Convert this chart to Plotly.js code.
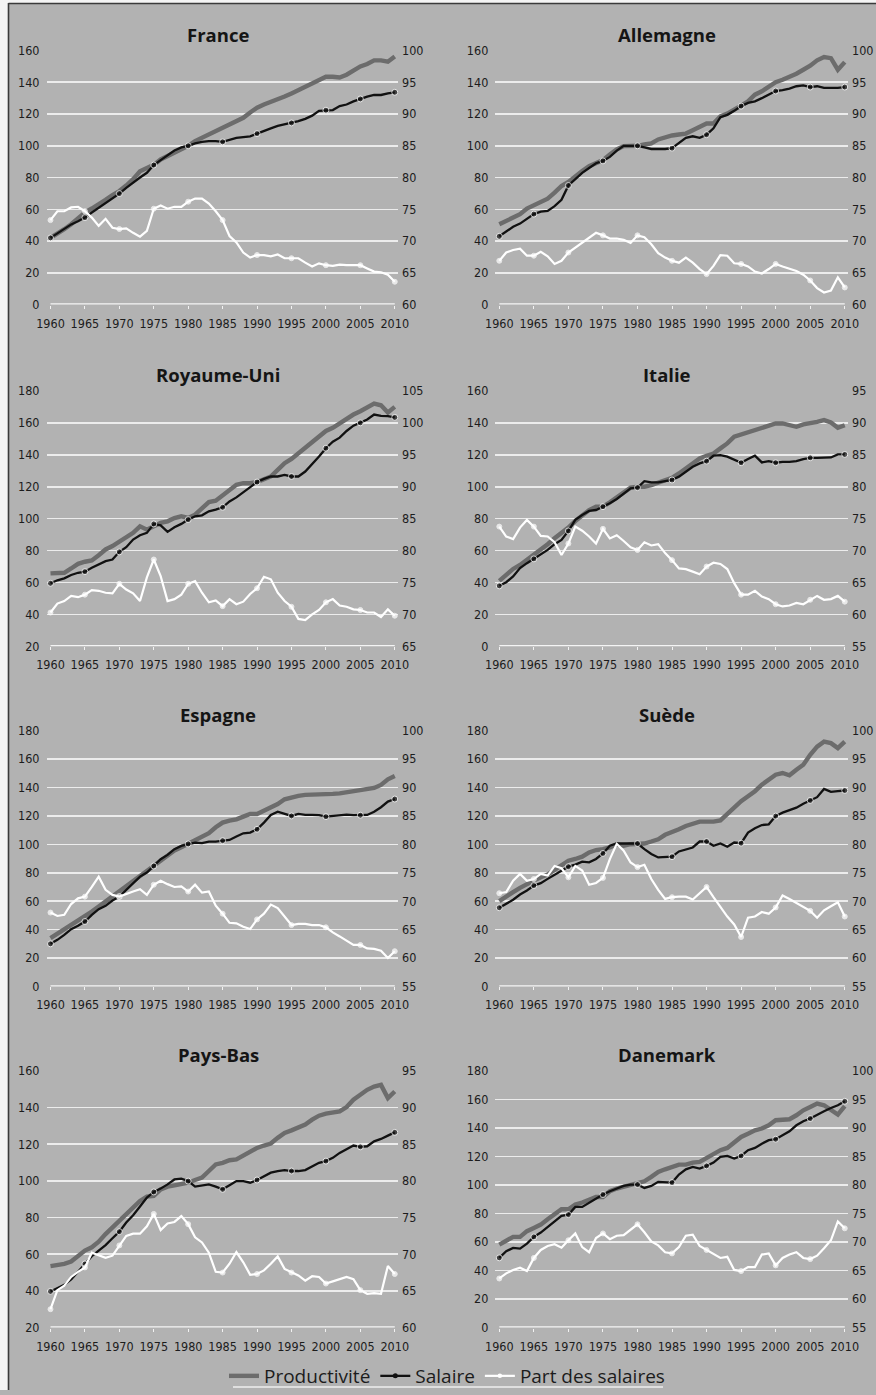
<!DOCTYPE html>
<html>
<head>
<meta charset="utf-8">
<script src="https://cdn.plot.ly/plotly-3.0.1.min.js"></script>
<style>
  html, body { margin: 0; padding: 0; background: #ffffff; }
  #chart { width: 876px; height: 1395px; }
</style>
</head>
<body>
<div id="chart"></div>
<script>
// Years 1960 to 2010
const years = [];
for (let y = 1960; y <= 2010; y++) years.push(y);
const yearTicks = [1960, 1965, 1970, 1975, 1980, 1985, 1990, 1995, 2000, 2005, 2010];

const seriesNames = ['Productivité', 'Salaire', 'Part des salaires'];

// France
const franceProductivite = [42,44.5,47.5,50.6,54,58,60.5,63,66,69,71.5,75,79,84,86,88,91.4,93.5,95.6,98,100,103,105,107,109,111,113.5,115.5,117.6,121,124,126,127.5,129,131,133,135,137,139,141.6,143.5,143.5,143,144.8,147.5,150,151.5,153.8,153.8,153,156.3];
const franceSalaire = [42,45,48,50.5,52.5,54.8,58,61,64,67,69.9,73.5,77,80,83,87.9,91,94,97,99,100,101.5,102.5,103,103,102.5,104,105,105.5,106,107.7,109.5,111,112.5,113.5,114.4,115.5,117,119,122,122.4,122.5,125,126,128,129.5,131,132,132,133,133.7];
const francePart = [73.3,74.7,74.7,75.3,75.4,74.7,73.7,72.4,73.5,72.1,71.9,72.0,71.3,70.7,71.6,75.1,75.6,75.1,75.4,75.4,76.2,76.7,76.7,75.9,74.7,73.3,70.8,69.8,68.2,67.4,67.8,67.8,67.6,67.9,67.3,67.3,67.3,66.6,66.0,66.5,66.2,66.1,66.3,66.2,66.2,66.2,65.7,65.2,65.1,64.7,63.6];

// Allemagne
const allemagneProductivite = [50.6,52.7,54.8,56.9,60.5,62.6,64.6,66.7,70.5,74.7,77.2,81,84.1,87.2,89.3,91,94.6,97.7,99.8,99.8,100,100.8,101.5,104,105.6,106.5,107.1,107.7,109.8,111.9,114,114,118.6,120.3,123.2,125.3,128,132.2,134.3,137,140,141.6,143.3,145.4,147.9,150.4,153.8,155.9,155.2,147.9,152.7];
const allemagneSalaire = [43,46,49,51,54,57,58.5,59,62,66,75,79,83,86,89,90.5,93,97,100,100,100,99,98,98,98,98.5,102,105,106,105,107,111,118,119.5,122,125,127,128,130,132,134.5,135,136,137.5,138,137,137.5,136.5,136.5,136.5,137];
const allemagnePart = [66.9,68.2,68.6,68.8,67.7,67.7,68.3,67.6,66.4,66.9,68.2,69.0,69.7,70.6,71.3,70.9,70.4,70.4,70.2,69.7,70.9,70.6,69.5,68.1,67.4,66.9,66.6,67.4,66.6,65.6,64.8,66.1,67.8,67.7,66.5,66.4,66.0,65.2,64.9,65.6,66.4,66.0,65.6,65.3,64.7,63.8,62.6,61.9,62.2,64.3,62.7];

// Royaume-Uni
const royaumeUniProductivite = [65.7,66.1,66.1,68.8,71.7,73,73.8,77.1,80.7,82.8,85.5,88.4,91.1,95.2,93.1,95.2,97.3,98.3,100.4,101.5,100.4,102.5,106.6,110.4,111.2,114.5,118.1,121.2,122.2,122.2,122.9,124.3,126.4,130.5,134.7,137.4,140.9,144.1,147.8,151.3,154.9,156.9,159.6,162.8,165.2,167.3,170,172.1,171,166.5,170];
const royaumeUniSalaire = [59.5,61.4,62.6,64.7,66.1,66.8,69.2,71.3,73.4,74.4,79.2,82.1,86.9,89.6,91.1,96.7,95.8,91.7,94.6,96.7,99.4,101.5,102.1,104.6,105.6,107.1,110.8,113.3,116.6,119.5,122.9,124.9,126.4,126.4,127.4,126.4,126.4,129.5,134.1,138.9,144.1,148.2,150.7,154.9,158.2,160,162.1,165.2,164.4,164.2,163.4];
const royaumeUniPart = [70.3,71.7,72.1,72.9,72.7,73.1,73.8,73.7,73.4,73.3,74.8,73.9,73.3,72.1,75.8,78.6,76.0,72.1,72.4,73.1,74.8,75.2,73.4,71.9,72.2,71.3,72.4,71.6,72.0,73.2,74.1,75.9,75.5,73.4,72.1,71.2,69.3,69.1,70.0,70.7,71.9,72.4,71.4,71.2,70.8,70.7,70.3,70.3,69.6,70.8,69.8];

// Italie
const italieProductivite = [41,44.4,48.5,51,54.2,56.9,60.4,64,67.7,70.8,74.4,78.5,81.9,85.4,87.5,87.5,90.2,93.1,96.5,99.4,100,100,101,102.7,104.2,105.6,108.3,111.5,114.6,117.7,119.4,120.8,124,127.1,131.3,132.7,134,135.4,136.5,138.1,139.6,139.6,138.5,137.5,139,139.6,140.6,141.7,140.2,136.9,138.5];
const italieSalaire = [37.9,40.2,43.8,49,52.1,54.8,57.7,60.4,64,66.7,72.3,79.2,82.3,84.8,85.4,87.5,89.6,92.3,95.8,99,99.4,103.5,102.7,102.7,103.5,104.2,106.3,109.4,112.5,114.6,116,119.4,119.8,118.8,116.7,115,117.3,119.4,115.2,116,115,115.6,115.6,116,117.3,118.1,118.1,118.1,118.3,120.2,120.2];
const italiePart = [73.75,72.2,71.8,73.6,74.8,73.75,72.3,72.2,71.3,69.3,71.1,73.75,73.1,72.2,71.1,73.4,71.9,72.4,71.5,70.5,70.1,71.3,70.8,71.0,69.6,68.5,67.2,67.1,66.7,66.3,67.5,68.1,67.9,67.1,64.9,63.1,63.1,63.7,62.8,62.4,61.6,61.25,61.4,61.8,61.6,62.3,62.9,62.3,62.4,62.9,62.0];

// Espagne
const espagneProductivite = [34,37,39.8,43.4,46.4,49.2,52.7,56.2,59.8,63.3,66.8,70.3,74.5,77.8,81.6,85.5,89.1,92.6,95.6,98,100.3,102.6,105,107.8,112,115.3,116.7,117.6,119.5,121.4,121.4,123.7,126.1,128.4,131.7,133.1,134.1,134.8,134.8,134.8,135.2,135.5,135.9,136.6,137.3,137.8,138.3,139.7,141.8,145.8,148.1];
const espagneSalaire = [30,32.8,36.3,40.3,42.7,45.7,50.4,54.4,56.7,60.5,63.3,68,73.1,77.3,80.2,84.8,89.5,92.6,96.6,98.9,100.3,101.2,100.8,101.9,101.9,102.6,103.1,105.5,107.8,108.3,110.6,115.3,120.7,123,121.4,120,121.4,120.7,120.7,120.5,119.5,120,120.5,120.9,120.5,120.5,120.7,123,126.1,130.1,131.9];
const espagnePart = [68.0,67.4,67.6,69.5,70.5,70.8,72.5,74.3,72.0,71.1,70.8,71.3,71.7,72.1,71.1,72.9,73.6,73.0,72.5,72.6,71.7,72.9,71.5,71.7,69.2,67.8,66.2,66.1,65.5,65.1,66.8,67.8,69.4,68.8,67.2,65.8,66.0,66.0,65.8,65.8,65.4,64.5,63.8,63.1,62.3,62.3,61.7,61.6,61.3,60.0,61.2];

// Suède
const sueProductivite = [60.1,62.9,66.4,69.4,72.2,74.5,76.9,78.7,82,85.7,88.5,89.7,91.3,94.3,96,96.6,97.8,100.1,99,100.1,100.1,100.6,102,103.6,106.7,108.3,110.6,112.9,114.6,116,116,116,116.9,121.6,125.3,130.4,133.9,137.4,142,145.6,149,150.2,148.6,152.5,156,163,168.8,172.3,171.2,167.7,172.3];
const sueSalaire = [55.4,58.2,61,64.7,67.5,71,72.7,75.7,78.7,81.5,84.3,85.7,87.8,87.3,89.7,93.6,99,100.6,100.6,100.1,100.6,96.6,93.2,90.8,91.3,91.3,95,96.6,97.8,102,102,99,100.6,98.3,101.3,100.8,108.3,111.3,113.6,114.1,119.9,122.3,123.9,125.8,128.6,130.9,133.2,139,136.9,137.4,137.9];
const suePart = [71.4,71.6,73.6,74.8,73.6,73.9,74.8,74.5,76.2,75.8,74.2,76.2,75.4,72.9,73.2,74.1,77.4,80.1,78.9,76.8,76.0,76.4,73.9,72.0,70.4,70.7,70.8,70.8,70.3,71.4,72.5,70.7,69.0,67.3,65.9,63.7,67.1,67.3,68.1,67.8,68.9,71.0,70.4,69.7,69.0,68.3,67.1,68.4,69.1,69.8,67.3];

// Pays-Bas
const paysBasProductivite = [53.5,53.8,54.7,56,58.9,62,63.8,66.8,71,74.6,78.2,81.3,85.5,89.1,91.4,91.8,95.4,96.9,97.6,98.1,99,100.5,101.8,105.4,109,109.9,111.3,111.7,113.9,116.2,118,119.3,120.4,123.5,126.2,127.6,129.4,130.7,133.4,135.6,136.7,137,137.9,140.3,144.3,147,149.7,151.5,152.4,145.2,148.8];
const paysBasSalaire = [39.7,41.5,43.3,46.2,50.6,54.7,58.9,62,65,68.7,72.3,77.3,81.3,86,90.9,94,95.8,98.1,100.8,101.2,99.9,96.9,97.6,98.1,96.9,95.4,97.6,99.9,99.9,99,100.5,102.3,104.5,105.4,105.9,105.4,105.4,105.9,108.1,109.9,110.8,112.6,115.3,117.1,119.3,118.6,118.9,121.6,122.9,124.7,126.5];
const paysBasPart = [62.5,65.1,65.7,66.9,67.6,68.2,70.2,69.8,69.5,69.8,71.2,72.5,72.8,72.8,73.8,75.5,73.3,74.2,74.4,75.2,74.1,72.3,71.6,70.2,67.6,67.5,68.7,70.3,68.9,67.2,67.3,67.8,68.7,69.7,68.0,67.5,67.1,66.4,67.0,66.9,66.0,66.3,66.6,66.9,66.6,65.1,64.6,64.7,64.6,68.4,67.3];

// Danemark
const danemarkProductivite = [58.2,61.2,63.6,63.6,67.6,69.9,72.2,76,79.9,83,83,86.3,87.7,90,91.6,91.6,95.6,97.5,98.6,100.3,101,102.6,105.7,109.2,111,112.7,114.3,114.3,115.7,116.2,119,121.3,124.4,126,130.2,133.7,136,138.4,139.6,141.9,145.4,145.4,146.1,148.9,152.4,154.7,157.1,155.9,152.4,149.4,155.4];
const danemarkSalaire = [48.9,53.5,55.9,55.4,58.9,63.6,66.6,70.6,74.6,78.3,79.2,84.6,84.6,87.7,90.5,93.3,95.6,97.5,99.3,100.3,100.3,97.9,99.3,102.2,102.2,101.7,107.3,111,112.7,111.5,113.4,115.7,119.7,120.4,118.5,120.4,124.4,126,129,131.4,132.1,134.9,137.7,141.9,144.7,146.6,149.4,151.7,154,155.9,158.7];
const danemarkPart = [63.6,64.5,65.1,65.5,64.9,67.2,68.6,69.3,69.6,69.0,70.3,71.5,69.1,68.2,70.7,71.5,70.5,71.1,71.2,72.1,73.1,71.7,70.1,69.4,68.2,68.0,69.1,71.1,71.3,69.3,68.6,68.0,67.2,67.4,65.1,64.9,65.6,65.6,67.8,68.0,65.9,67.2,67.8,68.2,67.2,67.0,67.6,68.9,70.3,73.6,72.4];

const countries = ['France', 'Allemagne', 'Royaume-Uni', 'Italie', 'Espagne', 'Suède', 'Pays-Bas', 'Danemark'];
const productivite = [franceProductivite, allemagneProductivite, royaumeUniProductivite, italieProductivite, espagneProductivite, sueProductivite, paysBasProductivite, danemarkProductivite];
const salaire = [franceSalaire, allemagneSalaire, royaumeUniSalaire, italieSalaire, espagneSalaire, sueSalaire, paysBasSalaire, danemarkSalaire];
const partSalaires = [francePart, allemagnePart, royaumeUniPart, italiePart, espagnePart, suePart, paysBasPart, danemarkPart];

// Left (index) and right (share, %) axis ranges per country
const leftRanges = [[0,160],[0,160],[20,180],[0,160],[0,180],[0,180],[20,160],[0,180]];
const rightRanges = [[60,100],[60,100],[65,105],[55,95],[55,100],[55,100],[60,95],[55,100]];

// ---- page geometry (pixels) ----
const W = 876, H = 1395;
const colPx = [[46.5, 398], [495.3, 848]];
const rowPx = [[50.7, 305.7], [392.3, 648.7], [733.3, 990], [1074.8, 1332.3]];
const titleCx = [218, 667];
const px2x = p => p / W;
const px2y = p => 1 - p / H;

const BG = '#b2b2b2';
const GRID = '#ececec';
const PROD_COLOR = '#6c6c6c', SAL_COLOR = '#111111', PART_COLOR = '#ffffff';
const tickFont = { family: '"Liberation Sans Narrow", "DejaVu Sans Condensed", "Open Sans", sans-serif', size: 12.5, color: '#1c1c1c' };
const xRange = [1959.42, 2010.47];

const traces = [];
const layout = {
  width: W, height: H,
  margin: { l: 0, r: 0, t: 0, b: 0 },
  paper_bgcolor: BG,
  plot_bgcolor: 'rgba(0,0,0,0)',
  showlegend: true,
  legend: {
    orientation: 'h',
    x: px2x(447), xanchor: 'center',
    y: px2y(1381), yanchor: 'middle',
    font: { family: '"Open Sans", "Noto Sans", sans-serif', size: 19, color: '#1c1c1c' },
    bgcolor: 'rgba(0,0,0,0)',
    itemwidth: 30,
    tracegroupgap: 0
  },
  annotations: [],
  shapes: []
};

const markerSizes = years.map(y => (y % 5 === 0 ? 6 : 0));
const markerSizesPart = years.map(y => (y % 5 === 0 ? 5 : 0));

countries.forEach((name, i) => {
  const col = i % 2, row = Math.floor(i / 2);
  const n = i + 1;
  const xa = n === 1 ? 'x' : 'x' + n;
  const ya = n === 1 ? 'y' : 'y' + n;
  const yr = 'y' + (n + 8);
  const xKey = n === 1 ? 'xaxis' : 'xaxis' + n;
  const yKey = n === 1 ? 'yaxis' : 'yaxis' + n;
  const yrKey = 'yaxis' + (n + 8);

  traces.push({
    type: 'scatter', mode: 'lines', name: seriesNames[0],
    x: years, y: productivite[i], xaxis: xa, yaxis: ya,
    line: { color: PROD_COLOR, width: 4.4 },
    showlegend: false, hoverinfo: 'skip'
  });
  traces.push({
    type: 'scatter', mode: 'lines+markers', name: seriesNames[1],
    x: years, y: salaire[i], xaxis: xa, yaxis: ya,
    line: { color: SAL_COLOR, width: 2.3 },
    marker: { color: SAL_COLOR, size: markerSizes },
    showlegend: false, hoverinfo: 'skip'
  });
  traces.push({
    type: 'scatter', mode: 'lines+markers', name: seriesNames[2],
    x: years, y: partSalaires[i], xaxis: xa, yaxis: yr,
    line: { color: PART_COLOR, width: 2.2 },
    marker: { color: PART_COLOR, size: markerSizesPart },
    showlegend: false, hoverinfo: 'skip'
  });

  const xDom = [px2x(colPx[col][0]), px2x(colPx[col][1])];
  const yDom = [px2y(rowPx[row][1]), px2y(rowPx[row][0])];

  layout[xKey] = {
    domain: xDom, range: xRange, anchor: ya,
    tickmode: 'array', tickvals: yearTicks,
    ticks: 'outside', ticklen: 3, tickwidth: 1, tickcolor: '#f2f2f2',
    showgrid: false, zeroline: false, showline: false,
    tickfont: tickFont, ticklabelstandoff: 4, fixedrange: true
  };
  layout[yKey] = {
    domain: yDom, range: leftRanges[i], anchor: xa,
    tick0: leftRanges[i][0], dtick: 20,
    showgrid: true, gridcolor: GRID, gridwidth: 1.6,
    zeroline: false, showline: false, ticks: '',
    tickfont: tickFont, ticklabelstandoff: 6, fixedrange: true
  };
  layout[yrKey] = {
    overlaying: ya, side: 'right', anchor: xa,
    range: rightRanges[i], tick0: rightRanges[i][0], dtick: 5,
    showgrid: false, zeroline: false, showline: false, ticks: '',
    tickfont: tickFont, ticklabelstandoff: 3, fixedrange: true
  };

  // white baseline across the year span
  layout.shapes.push({
    type: 'line', xref: xa, yref: ya,
    x0: years[0], x1: years[years.length - 1],
    y0: leftRanges[i][0], y1: leftRanges[i][0],
    line: { color: '#f4f4f4', width: 2.6 }, layer: 'above'
  });

  // panel title
  layout.annotations.push({
    text: name, showarrow: false,
    xref: 'paper', yref: 'paper',
    x: px2x(titleCx[col]), y: px2y(rowPx[row][0] - 16.5),
    xanchor: 'center', yanchor: 'middle',
    font: { family: '"Open Sans", "Noto Sans", sans-serif', size: 18.5, weight: 700, color: '#151515' }
  });
});

// legend entries (styled samples for the three series)
traces.push(
  { type: 'scatter', mode: 'lines', name: seriesNames[0], x: [null], y: [null],
    line: { color: PROD_COLOR, width: 4.4 }, showlegend: true, hoverinfo: 'skip' },
  { type: 'scatter', mode: 'lines+markers', name: seriesNames[1], x: [null], y: [null],
    line: { color: SAL_COLOR, width: 2.3 }, marker: { color: SAL_COLOR, size: 5 }, showlegend: true, hoverinfo: 'skip' },
  { type: 'scatter', mode: 'lines+markers', name: seriesNames[2], x: [null], y: [null],
    line: { color: PART_COLOR, width: 2.2 }, marker: { color: PART_COLOR, size: 4.5 }, showlegend: true, hoverinfo: 'skip' }
);

// page frame: white margin strips and dark border lines
layout.shapes.push(
  { type: 'rect', xref: 'paper', yref: 'paper', x0: 0, x1: px2x(8), y0: 0, y1: 1, fillcolor: '#f4f4f4', line: { width: 0 }, layer: 'above' },
  { type: 'rect', xref: 'paper', yref: 'paper', x0: 0, x1: 1, y0: px2y(3), y1: 1, fillcolor: '#f4f4f4', line: { width: 0 }, layer: 'above' },
  { type: 'line', xref: 'paper', yref: 'paper', x0: px2x(8.5), x1: px2x(8.5), y0: 0, y1: px2y(3), line: { color: '#3a3a3a', width: 1.6 }, layer: 'above' },
  { type: 'line', xref: 'paper', yref: 'paper', x0: px2x(8.5), x1: 1, y0: px2y(3.5), y1: px2y(3.5), line: { color: '#3a3a3a', width: 1.6 }, layer: 'above' },
  { type: 'line', xref: 'paper', yref: 'paper', x0: px2x(233), x1: px2x(663), y0: px2y(1392), y1: px2y(1392), line: { color: '#eeeeee', width: 1.5 }, layer: 'above' }
);

Plotly.newPlot('chart', traces, layout, { staticPlot: true, displayModeBar: false });
</script>
</body>
</html>
